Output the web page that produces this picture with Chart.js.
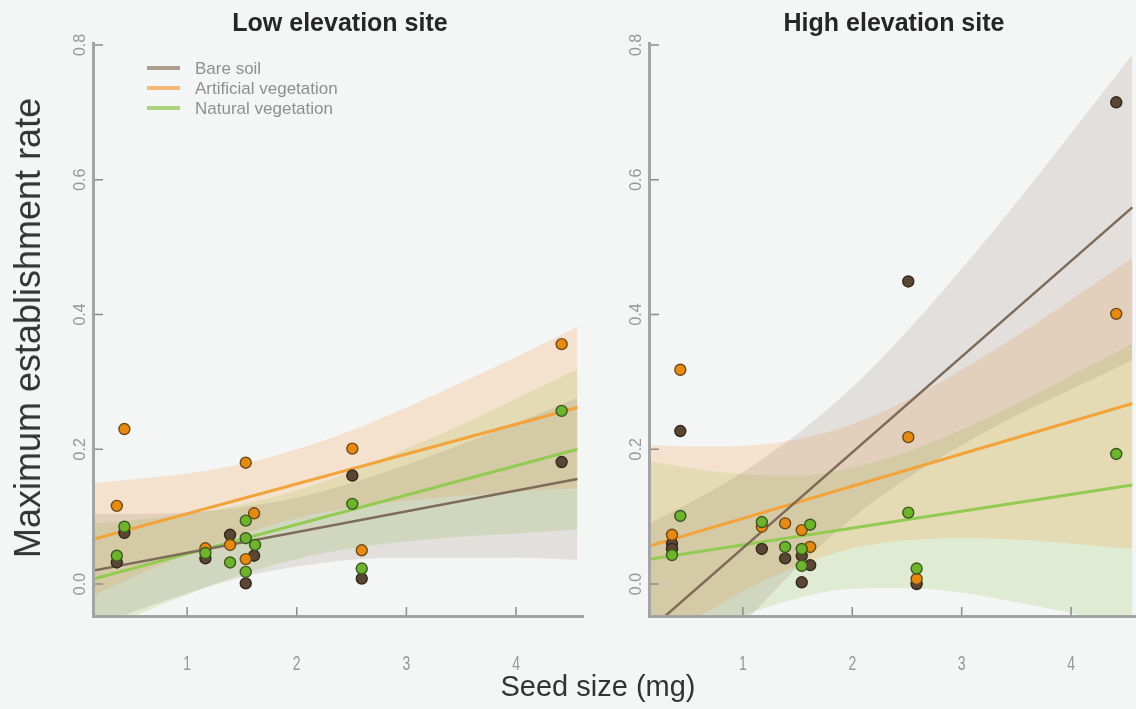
<!DOCTYPE html>
<html><head><meta charset="utf-8">
<script src="https://cdn.jsdelivr.net/npm/chart.js@4.4.0/dist/chart.umd.min.js"></script>
<style>
html,body{margin:0;padding:0;background:#f4f5f5;overflow:hidden;width:1136px;height:709px}
#wrap{position:relative;width:1136px;height:709px;overflow:hidden;background:#f4f5f5}
canvas{position:absolute;top:0;left:0}
.t{position:absolute;font-family:"Liberation Sans",Arial,sans-serif;white-space:nowrap;color:#2e2e2e;line-height:1}
</style></head><body><div id="wrap">
<div style="position:absolute;left:0;top:0;width:600px;height:709px"><canvas id="c1" width="600" height="709"></canvas></div>
<div style="position:absolute;left:556px;top:0;width:600px;height:709px"><canvas id="c2" width="600" height="709"></canvas></div>
<div class="t" id="t1" style="left:340px;top:10px;font-size:25px;font-weight:bold;color:#262626;transform:translateX(-50%)">Low elevation site</div>
<div class="t" id="t2" style="left:894px;top:10px;font-size:25px;font-weight:bold;color:#262626;transform:translateX(-50%)">High elevation site</div>
<div class="t" id="yl" style="left:28px;top:328px;font-size:36px;color:#333;transform:translate(-50%,-50%) rotate(-90deg)">Maximum establishment rate</div>
<div class="t" id="xl" style="left:598px;top:672px;font-size:29px;color:#333;transform:translateX(-50%)">Seed size (mg)</div>
</div>
<script>
// ---- data ----
const seriesNames = ['Bare soil', 'Artificial vegetation', 'Natural vegetation'];
const xTickValues = [1, 2, 3, 4];
const xTickLabels = ['1', '2', '3', '4'];
const yTickValues = [0, 0.2, 0.4, 0.6, 0.8];
const yTickLabels = ['0.0', '0.2', '0.4', '0.6', '0.8'];

// confidence band sample positions (seed size)
const bandX = [0.16, 0.6, 1.0, 1.5, 2.0, 2.5, 3.0, 3.5, 4.0, 4.56];
// fitted line end positions
const fitX = [0.16, 4.56];

// Low elevation site
const lowBareX = [0.359, 0.428, 1.167, 1.392, 1.535, 1.611, 2.507, 2.593, 4.416];
const lowBareY = [0.032, 0.076, 0.038, 0.073, 0.001, 0.042, 0.161, 0.008, 0.181];
const lowArtX = [0.359, 0.428, 1.167, 1.392, 1.535, 1.535, 1.611, 2.507, 2.593, 4.416];
const lowArtY = [0.116, 0.230, 0.053, 0.058, 0.180, 0.037, 0.105, 0.201, 0.050, 0.356];
const lowNatX = [0.359, 0.428, 1.167, 1.392, 1.535, 1.535, 1.535, 1.620, 2.507, 2.593, 4.416];
const lowNatY = [0.042, 0.085, 0.046, 0.032, 0.094, 0.068, 0.018, 0.058, 0.119, 0.023, 0.257];
const lowBareFit = [0.0205, 0.156];
const lowArtFit = [0.067, 0.262];
const lowNatFit = [0.008, 0.200];
const lowBareUpper = [0.104, 0.104, 0.106, 0.114, 0.128, 0.150, 0.177, 0.207, 0.239, 0.276];
const lowBareLower = [-0.063, -0.036, -0.014, 0.010, 0.026, 0.036, 0.039, 0.039, 0.039, 0.036];
const lowArtUpper = [0.150, 0.157, 0.164, 0.178, 0.200, 0.228, 0.262, 0.299, 0.337, 0.382];
const lowArtLower = [-0.016, 0.017, 0.044, 0.074, 0.098, 0.114, 0.124, 0.131, 0.137, 0.142];
const lowNatUpper = [0.090, 0.096, 0.104, 0.118, 0.139, 0.167, 0.201, 0.236, 0.275, 0.319];
const lowNatLower = [-0.074, -0.042, -0.016, 0.014, 0.037, 0.053, 0.063, 0.070, 0.075, 0.081];

// High elevation site
const highBareX = [0.352, 0.352, 0.428, 1.173, 1.386, 1.538, 1.538, 1.615, 2.512, 2.588, 4.413];
const highBareY = [0.060, 0.052, 0.227, 0.052, 0.038, 0.042, 0.0025, 0.028, 0.449, 0.000, 0.715];
const highArtX = [0.352, 0.428, 1.173, 1.386, 1.538, 1.615, 2.512, 2.588, 4.413];
const highArtY = [0.073, 0.318, 0.085, 0.090, 0.080, 0.055, 0.218, 0.0075, 0.401];
const highNatX = [0.352, 0.428, 1.173, 1.386, 1.538, 1.538, 1.615, 2.512, 2.588, 4.413];
const highNatY = [0.043, 0.101, 0.092, 0.055, 0.052, 0.027, 0.088, 0.106, 0.023, 0.193];
const highBareFit = [-0.066, 0.559];
const highArtFit = [0.057, 0.268];
const highNatFit = [0.037, 0.147];
const highBareUpper = [0.091, 0.128, 0.166, 0.223, 0.292, 0.375, 0.468, 0.566, 0.669, 0.786];
const highBareLower = [-0.223, -0.136, -0.060, 0.025, 0.098, 0.157, 0.206, 0.250, 0.289, 0.332];
const highArtUpper = [0.206, 0.204, 0.205, 0.215, 0.237, 0.273, 0.318, 0.368, 0.422, 0.484];
const highArtLower = [-0.092, -0.048, -0.011, 0.027, 0.053, 0.065, 0.068, 0.066, 0.060, 0.052];
const highNatUpper = [0.182, 0.170, 0.163, 0.161, 0.173, 0.196, 0.229, 0.267, 0.309, 0.357];
const highNatLower = [-0.108, -0.074, -0.047, -0.021, -0.007, -0.006, -0.013, -0.027, -0.043, -0.063];

// ---- styles ----
const lineColors = ['#7e6b59', '#f2a33a', '#93cb52'];
const legendColors = ['#ab9c8e', '#f6b878', '#acd47e'];
const bandColors = ['rgba(125,100,80,0.15)', 'rgba(245,150,55,0.2)', 'rgba(150,200,85,0.22)'];
const pointFill = ['#5a4633', '#e68a12', '#6db32c'];
const pointBorder = ['#33281d', '#6e4a1a', '#3a5820'];

const pts = (xs, ys) => xs.map((x, i) => ({x: x, y: ys[i]}));

function buildDatasets(p) {
  const ds = [];
  // points: natural on top, then artificial, then bare
  [2, 1, 0].forEach(k => {
    ds.push({type: 'scatter', data: pts(p.px[k], p.py[k]), pointRadius: 5.5, pointHoverRadius: 5.5,
      backgroundColor: pointFill[k], borderColor: pointBorder[k], borderWidth: 1.4, order: 0});
  });
  [0, 1, 2].forEach(k => {
    ds.push({type: 'line', data: pts(fitX, p.fit[k]), borderColor: lineColors[k],
      borderWidth: k === 0 ? 2.5 : 3, pointRadius: 0, fill: false, order: 1});
  });
  [0, 1, 2].forEach(k => {
    ds.push({type: 'line', data: pts(bandX, p.up[k]), borderColor: 'rgba(0,0,0,0)', borderWidth: 0,
      pointRadius: 0, fill: '+1', backgroundColor: bandColors[k], cubicInterpolationMode: 'monotone', order: 2});
    ds.push({type: 'line', data: pts(bandX, p.lo[k]), borderColor: 'rgba(0,0,0,0)', borderWidth: 0,
      pointRadius: 0, fill: false, cubicInterpolationMode: 'monotone', order: 2});
  });
  return ds;
}

const axesPlugin = {
  id: 'rAxes',
  afterDraw(chart, args, opts) {
    const {ctx, chartArea: a, scales: {x, y}} = chart;
    ctx.save();
    ctx.strokeStyle = '#a4a4a4';
    ctx.lineWidth = 3;
    ctx.beginPath();
    ctx.moveTo(a.left - 1.5, y.getPixelForValue(0.8) - 3);
    ctx.lineTo(a.left - 1.5, a.bottom + 3);
    ctx.stroke();
    ctx.beginPath();
    ctx.moveTo(a.left - 3, a.bottom + 1.5);
    ctx.lineTo(a.right, a.bottom + 1.5);
    ctx.stroke();
    ctx.strokeStyle = '#8c8c8c';
    ctx.lineWidth = 1.5;
    ctx.beginPath();
    yTickValues.forEach(v => { const py = y.getPixelForValue(v); ctx.moveTo(a.left, py); ctx.lineTo(a.left + 8, py); });
    xTickValues.forEach(v => { const px = x.getPixelForValue(v); ctx.moveTo(px, a.bottom); ctx.lineTo(px, a.bottom - 8); });
    ctx.stroke();
    ctx.fillStyle = '#979797';
    ctx.font = '16px "Liberation Sans", Arial, sans-serif';
    ctx.textAlign = 'center';
    ctx.textBaseline = 'middle';
    yTickValues.forEach((v, i) => {
      const py = y.getPixelForValue(v);
      ctx.save();
      ctx.translate(a.left - 14, py);
      ctx.rotate(-Math.PI / 2);
      ctx.fillText(yTickLabels[i], 0, 0);
      ctx.restore();
    });
    ctx.font = '20px "Liberation Sans", Arial, sans-serif';
    xTickValues.forEach((v, i) => {
      const px = x.getPixelForValue(v);
      ctx.save();
      ctx.translate(px, 664);
      ctx.scale(0.7, 1);
      ctx.fillText(xTickLabels[i], 0, 0);
      ctx.restore();
    });
    if (opts.legend) {
      ctx.font = '17px "Liberation Sans", Arial, sans-serif';
      ctx.textAlign = 'left';
      seriesNames.forEach((n, i) => {
        const ly = 68 + i * 20;
        ctx.strokeStyle = legendColors[i];
        ctx.lineWidth = 4;
        ctx.beginPath(); ctx.moveTo(147, ly); ctx.lineTo(180, ly); ctx.stroke();
        ctx.fillStyle = '#8f8f8f';
        ctx.fillText(n, 195, ly + 1);
      });
    }
    ctx.restore();
  }
};

function makeChart(id, p, xmax, legend) {
  return new Chart(document.getElementById(id), {
    type: 'scatter',
    data: {datasets: buildDatasets(p)},
    plugins: [axesPlugin],
    options: {
      responsive: false, animation: false, devicePixelRatio: 1,
      layout: {padding: {left: 95, right: 16, top: 45, bottom: 94}},
      scales: {
        x: {type: 'linear', min: 0.16, max: xmax, display: false},
        y: {type: 'linear', min: -0.046, max: 0.8, display: false}
      },
      plugins: {legend: {display: false}, tooltip: {enabled: false}, title: {display: false}, rAxes: {legend: legend}},
      events: []
    }
  });
}

makeChart('c1', {
  px: [lowBareX, lowArtX, lowNatX], py: [lowBareY, lowArtY, lowNatY],
  fit: [lowBareFit, lowArtFit, lowNatFit],
  up: [lowBareUpper, lowArtUpper, lowNatUpper], lo: [lowBareLower, lowArtLower, lowNatLower]
}, 4.62, true);
makeChart('c2', {
  px: [highBareX, highArtX, highNatX], py: [highBareY, highArtY, highNatY],
  fit: [highBareFit, highArtFit, highNatFit],
  up: [highBareUpper, highArtUpper, highNatUpper], lo: [highBareLower, highArtLower, highNatLower]
}, 4.63, false);
</script>
</body></html>
